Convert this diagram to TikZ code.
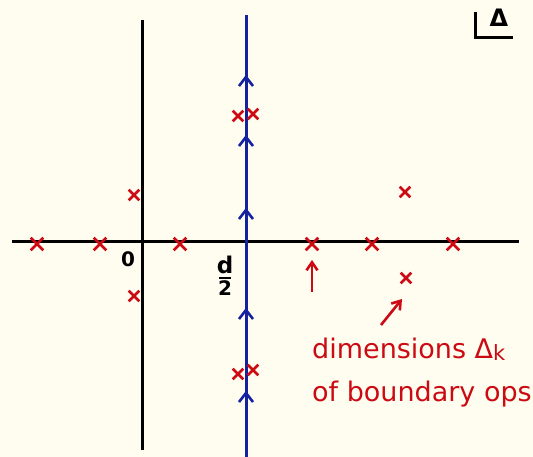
\documentclass[tikz,border=0pt]{standalone}
\usepackage{fontspec}
\setmainfont{DejaVu Sans}
\usetikzlibrary{shapes.misc,arrows.meta}
\definecolor{paper}{HTML}{FFFDF0}
\definecolor{pole}{HTML}{CC0A14}
\definecolor{contour}{HTML}{1422A0}
\tikzset{
  axis/.style={line width=3pt, black},
  polemark/.style={cross out, draw=pole, line width=2.6pt, minimum size=10pt, inner sep=0pt},
  chevron/.style={contour, line width=2.6pt},
  note/.style={pole, line width=2.6pt, -{Straight Barb[length=8pt,width=11pt]}},
  label/.style={inner sep=0pt, font=\fontsize{20}{22}\selectfont\bfseries}
}
\begin{document}
\begin{tikzpicture}[x=1pt, y=-1pt]
    % Hoja de fondo
    \fill[paper] (0,0) rectangle (533,457);
    \useasboundingbox (0,0) rectangle (533,457);

    % Ejes
    \draw[axis] (12,242) -- (519,242);
    \draw[axis] (142,20) -- (142,450);
    \node[label] (zero) at (128,259) {0};
    \node[label, font=\fontsize{23}{24}\selectfont\bfseries] (dnum) at (225,265) {d};
    \node[label] (dden) at (225,288) {2};
    \draw[line width=2.4pt] (219,278) -- (231,278);

    % Etiqueta Delta arriba a la derecha
    \draw[line width=3pt] (475,12) -- (475,38) -- (513,38);
    \node[label, font=\fontsize{24}{26}\selectfont\bfseries] (delta) at (499,18) {Δ};

    % Contorno azul con flechas
    \draw[contour, line width=3pt] (246,15) -- (246,457);
    \foreach \y in {77,137,210,310,393}
        \draw[chevron] (239,\y+9) -- (246,\y) -- (253,\y+9);

    % Polos en el eje real
    \foreach \x/\n in {37/a, 100/b, 180/c, 312/d, 372/e, 453/f}
        \node[polemark] (p\n) at (\x,244) {};

    % Polos fuera del eje
    \node[polemark, minimum size=8pt] (q1) at (134,195) {};
    \node[polemark, minimum size=8pt] (q2) at (134,296) {};
    \node[polemark, minimum size=8pt] (q3) at (405,192) {};
    \node[polemark, minimum size=8pt] (q4) at (406,278) {};
    \node[polemark, minimum size=8pt] (q5) at (238,116) {};
    \node[polemark, minimum size=8pt] (q6) at (253,114) {};
    \node[polemark, minimum size=8pt] (q7) at (238,374) {};
    \node[polemark, minimum size=8pt] (q8) at (253,370) {};

    % Texto explicativo
    \node[pole, anchor=west, inner sep=0pt] (dims) at (312,349) {\fontsize{27}{30}\selectfont dimensions Δ\raisebox{-2pt}{\fontsize{21}{22}\selectfont k}};
    \node[pole, anchor=west, inner sep=0pt] (bdry) at (312,394) {\fontsize{27}{30}\selectfont of boundary ops};

    % Flechas hacia los polos
    \coordinate (tailA) at (312,292);
    \coordinate (headA) at (312,260);
    \coordinate (tailB) at (381,325);
    \coordinate (headB) at (402,299);
    \draw[note] (tailA) -- (headA);
    \draw[note] (tailB) -- (headB);
\end{tikzpicture}
\end{document}
